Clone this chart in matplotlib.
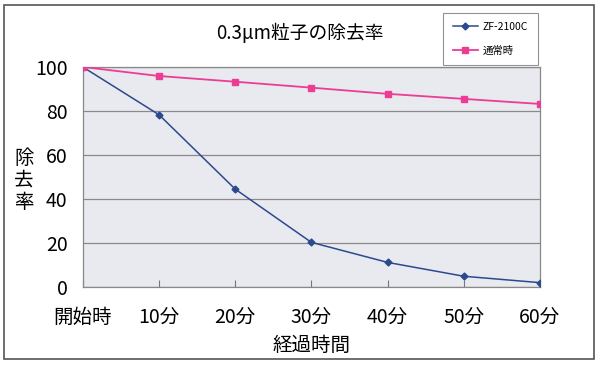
import matplotlib
matplotlib.use("Agg")
import matplotlib.pyplot as plt
from matplotlib.patches import Rectangle

plt.rcParams['font.family'] = ['Noto Sans CJK JP', 'DejaVu Sans']

categories = ["開始時", "10分", "20分", "30分", "40分", "50分", "60分"]
zf_2100c = [100, 78.3, 44.5, 20.3, 11.2, 4.9, 2.0]
normal = [100, 95.9, 93.3, 90.6, 87.8, 85.5, 83.2]
yticks = [0, 20, 40, 60, 80, 100]

fig = plt.figure(figsize=(6, 3.68), dpi=100)
ax = fig.add_axes([0.138, 0.22, 0.762, 0.598])
ax.set_facecolor("#e9e9f0")

x = list(range(len(categories)))
ax.plot(x, zf_2100c, color="#2b4a8e", lw=1.1, marker="D", ms=3.5, label="ZF-2100C", zorder=3)
ax.plot(x, normal, color="#ec3c94", lw=1.3, marker="s", ms=4.5, label="通常時", zorder=3)

ax.set_xlim(0, 6)
ax.set_ylim(0, 100)
ax.set_yticks(yticks)
ax.set_xticks(x)
ax.set_xticklabels(categories, fontsize=14)
ax.set_yticklabels([str(v) for v in yticks], fontsize=14)
ax.yaxis.grid(True, color="#8a8a8a", lw=0.9)
ax.set_axisbelow(True)
ax.tick_params(axis="x", direction="in", length=5, color="#777777", pad=14)
ax.tick_params(axis="y", length=0, pad=11)
for s in ax.spines.values():
    s.set_color("#888888")
    s.set_linewidth(0.9)

fig.text(0.04, 0.51, "除\n去\n率", fontsize=14, ha="center", va="center", linespacing=1.05)
fig.text(0.52, 0.062, "経過時間", fontsize=14, ha="center", va="center")
fig.text(0.50, 0.91, "0.3μm粒子の除去率", fontsize=13.5, ha="center", va="center")

leg = fig.legend(loc="upper left", bbox_to_anchor=(0.73, 0.98), fontsize=7.5,
                 frameon=True, fancybox=False, handlelength=2.4, labelspacing=1.3,
                 borderpad=0.9, handletextpad=0.5)
leg.get_frame().set_edgecolor("#777777")
leg.get_frame().set_linewidth(0.8)

fig.patches.append(Rectangle((0.007, 0.024), 0.983, 0.962, transform=fig.transFigure,
                             fill=False, edgecolor="#555555", lw=1.2))

fig.savefig("out.png", dpi=100)
